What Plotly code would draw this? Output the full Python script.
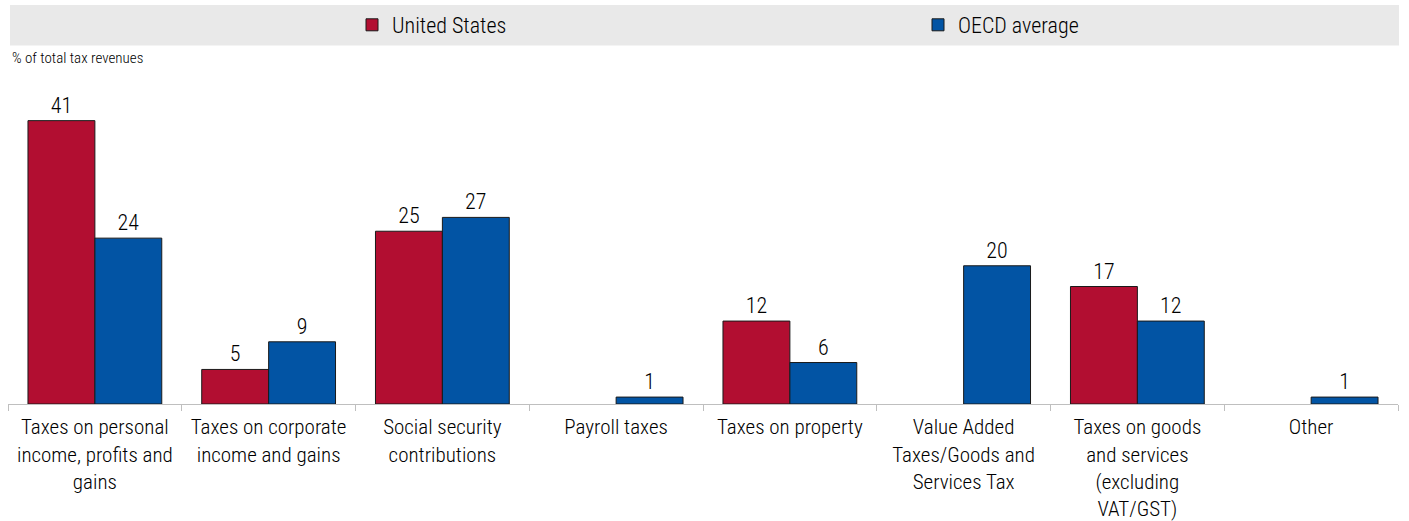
import plotly.graph_objects as go

categories = [
    "Taxes on personal<br>income, profits and<br>gains",
    "Taxes on corporate<br>income and gains",
    "Social security<br>contributions",
    "Payroll taxes",
    "Taxes on property",
    "Value Added<br>Taxes/Goods and<br>Services Tax",
    "Taxes on goods<br>and services<br>(excluding<br>VAT/GST)",
    "Other",
]
united_states = [41, 5, 25, None, 12, None, 17, None]
oecd_average = [24, 9, 27, 1, 6, 20, 12, 1]

FONT = "Roboto Condensed, Liberation Sans Narrow, Arial Narrow, Liberation Sans, Arial, sans-serif"
W = 300
RED = "#B20E31"
BLUE = "#0254A4"

fig = go.Figure()
fig.add_trace(go.Bar(
    name="United States", x=categories, y=united_states,
    marker=dict(color=RED, line=dict(color="#1a1a1a", width=1)),
    text=united_states, textposition="outside", cliponaxis=False,
    textfont=dict(size=22, color="#000000", family=FONT, weight=W),
))
fig.add_trace(go.Bar(
    name="OECD average", x=categories, y=oecd_average,
    marker=dict(color=BLUE, line=dict(color="#1a1a1a", width=1)),
    text=oecd_average, textposition="outside", cliponaxis=False,
    textfont=dict(size=22, color="#000000", family=FONT, weight=W),
))

fig.update_layout(
    width=1409, height=521,
    margin=dict(l=8, r=11, t=93, b=117, autoexpand=False),
    paper_bgcolor="white", plot_bgcolor="white",
    barmode="group", bargap=0.23, bargroupgap=0,
    font=dict(family=FONT, size=20, color="#000000", weight=W),
    showlegend=True,
    legend=dict(
        orientation="h", xref="container", yref="container",
        x=352 / 1409, xanchor="left", y=1 - 25 / 521, yanchor="middle",
        entrywidth=521, entrywidthmode="pixels",
        bgcolor="rgba(0,0,0,0)", font=dict(size=22, family=FONT, weight=W),
        traceorder="normal",
    ),
    xaxis=dict(
        type="category", tickson="boundaries", ticks="outside", ticklen=6,
        tickcolor="#BFBFBF", showline=True, linecolor="#BFBFBF", linewidth=1,
        showgrid=False, tickfont=dict(size=21, family=FONT, weight=W), tickangle=0,
        ticklabelstandoff=4, fixedrange=True,
    ),
    yaxis=dict(range=[0, 45], visible=False, showgrid=False, zeroline=False),
    shapes=[dict(
        type="rect", xref="paper", yref="paper",
        x0=(10 - 8) / 1390, x1=(1399 - 8) / 1390,
        y0=(404 - 45.5) / 311, y1=(404 - 5) / 311,
        fillcolor="#E9E9E9", line=dict(width=0), layer="below",
    )],
    annotations=[dict(
        text="% of total tax revenues", xref="paper", yref="paper",
        x=(10 - 8) / 1390, y=(404 - 58) / 311, xanchor="left", yanchor="middle",
        showarrow=False, font=dict(size=15, family=FONT, color="#000000", weight=W),
    )],
)

fig.write_html("out.html")
